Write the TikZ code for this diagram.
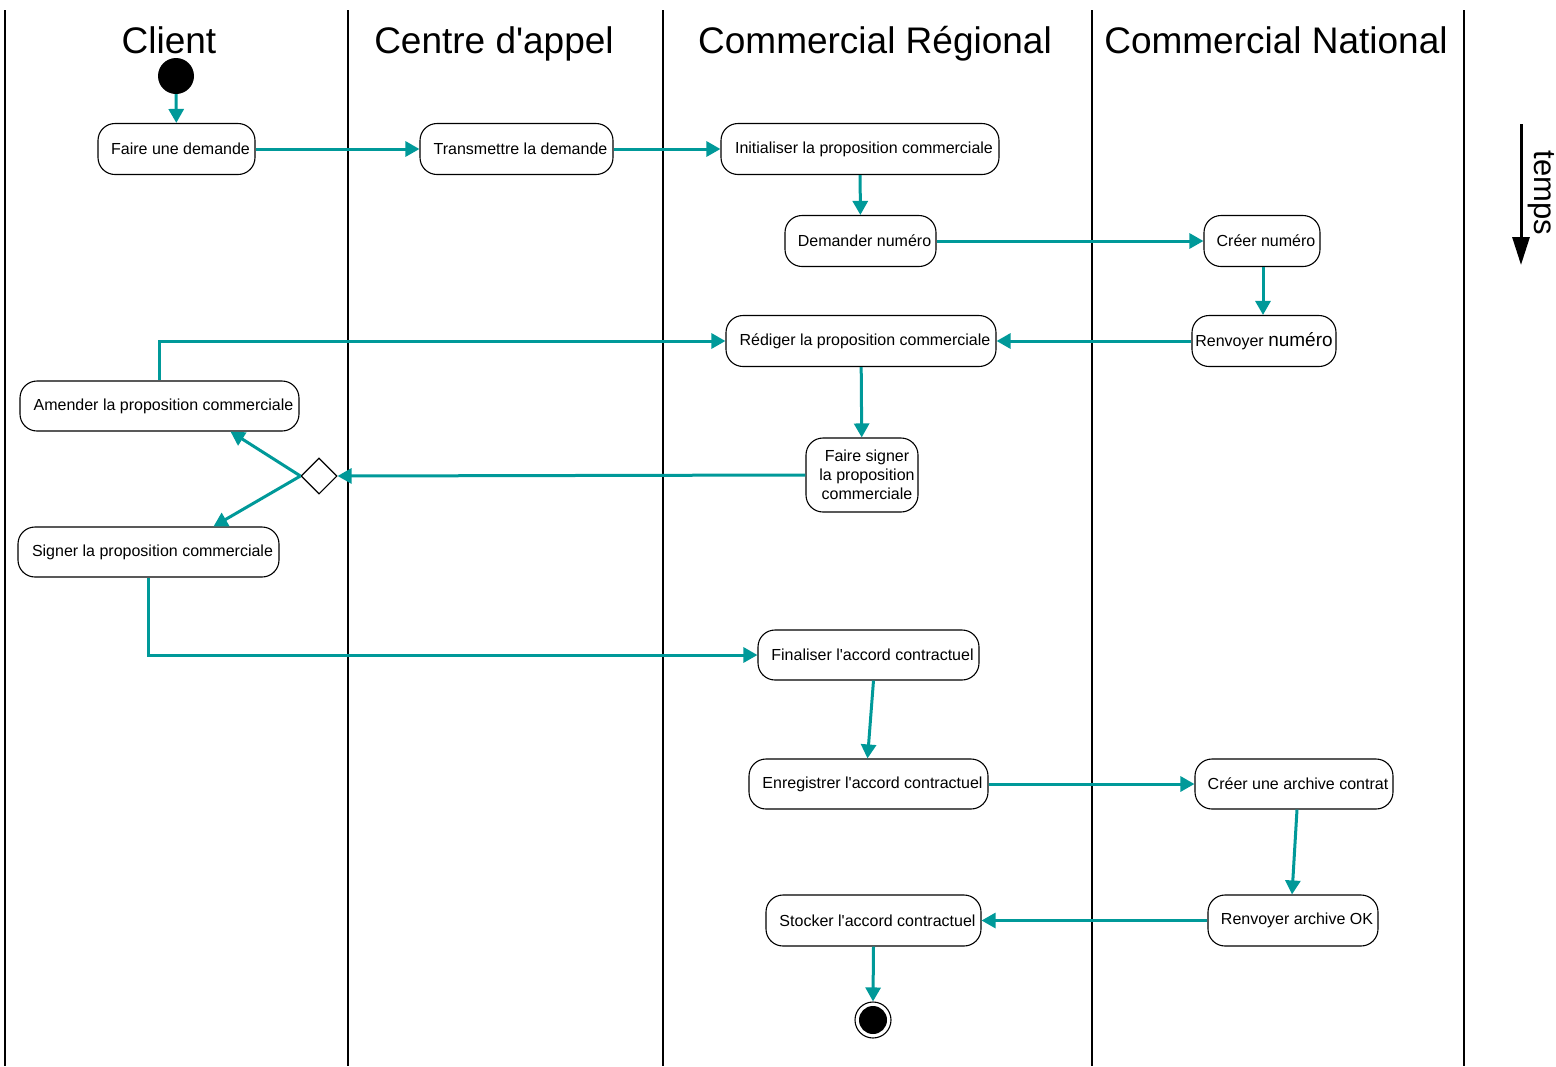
\documentclass[tikz,border=0pt]{standalone}
\usepackage{fontspec}
\setmainfont{Liberation Sans}[Ligatures=TeXOff]
\usetikzlibrary{arrows.meta,shapes.geometric}
\definecolor{flow}{HTML}{009999}

\begin{document}
\begin{tikzpicture}[x=1pt,y=-1pt,
  actbase/.style={draw=black, line width=1.1pt, rounded corners=17pt, inner sep=0pt,
              font=\fontsize{16}{19}\selectfont, align=center},
  act/.style={actbase, execute at begin node={\hspace*{8pt}}},
  flowarrow/.style={draw=flow, line width=3pt, -{Triangle[length=14pt,width=15pt]}},
  lane/.style={line width=1.2pt},
  title/.style={font=\fontsize{37}{40}\selectfont, anchor=base}]

\useasboundingbox (0,0) rectangle (1556,1066);

% swimlane separators
\foreach \x/\nm in {5/l0,348/l1,663/l2,1092/l3,1464/l4}
  \draw[lane] (\x,10) coordinate (\nm top) -- (\x,1066) coordinate (\nm bot);

% lane titles
\node[title] (tclient) at (169,53) {Client};
\node[title] (tcentre) at (494,53) {Centre d'appel};
\node[title] (tregional) at (875,53) {Commercial Régional};
\node[title] (tnational) at (1276,53) {Commercial National};

% time axis
\coordinate (tstart) at (1521,124);
\coordinate (tend) at (1521,265);
\draw[line width=3pt, -{Triangle[length=28pt,width=17pt]}] (tstart) -- (tend);
\node[rotate=-90, font=\fontsize{31}{34}\selectfont] (temps) at (1541,193) {temps};

% start and end
\node[circle, fill=black, minimum size=36pt, inner sep=0pt] (start) at (176,76) {};
\node[circle, draw=black, line width=1.1pt, minimum size=36pt, inner sep=0pt] (end) at (873,1020) {};
\node[circle, fill=black, minimum size=28pt, inner sep=0pt] (endcore) at (873,1020) {};

% activities
\node[act, minimum width=157pt, minimum height=51pt] (faire) at (176.5,149) {Faire une demande};
\node[act, minimum width=193pt, minimum height=51pt] (transmettre) at (516.5,149) {Transmettre la demande};
\node[act, minimum width=278pt, minimum height=51pt] (initialiser) at (860,149) {Initialiser la proposition commerciale};
\node[act, minimum width=151pt, minimum height=51pt] (demander) at (860.5,241) {Demander numéro};
\node[act, minimum width=116pt, minimum height=51pt] (creernum) at (1262,241) {Créer numéro};
\node[actbase, minimum width=144pt, minimum height=51pt] (renvoyernum) at (1264,341)
  {\raisebox{-1.5pt}{Renvoyer {\fontsize{19}{19}\selectfont numéro}}};
\node[act, minimum width=270pt, minimum height=51pt] (rediger) at (861,341) {Rédiger la proposition commerciale};
\node[act, minimum width=279pt, minimum height=50pt] (amender) at (159.5,406) {Amender la proposition commerciale};
\node[actbase, minimum width=112pt, minimum height=74pt] (fairesigner) at (862,475)
  {\hspace*{10pt}Faire signer\\\hspace*{10pt}la proposition\\\hspace*{10pt}commerciale};
\node[diamond, draw=black, line width=1.1pt, minimum width=36pt, minimum height=36pt, inner sep=0pt] (choix) at (319,476) {};
\node[act, minimum width=261pt, minimum height=50pt] (signer) at (148.5,552) {Signer la proposition commerciale};
\node[act, minimum width=221pt, minimum height=50pt] (finaliser) at (868.5,655) {Finaliser l'accord contractuel};
\node[act, minimum width=239pt, minimum height=50pt] (enregistrer) at (868.5,784) {Enregistrer l'accord contractuel};
\node[act, minimum width=198pt, minimum height=50pt] (archive) at (1294,784) {Créer une archive contrat};
\node[act, minimum width=170pt, minimum height=51pt] (renvoyerarch) at (1293,920.5) {Renvoyer archive OK};
\node[act, minimum width=215pt, minimum height=51pt] (stocker) at (873.5,920.5) {Stocker l'accord contractuel};

% control flow
\draw[flowarrow] (start) -- (faire);
\draw[flowarrow] (faire) -- (transmettre);
\draw[flowarrow] (transmettre) -- (initialiser);
\draw[flowarrow] (initialiser) -- (demander);
\draw[flowarrow] (demander) -- (creernum);
\draw[flowarrow] ([xshift=1pt]creernum.south) -- ([xshift=-1pt]renvoyernum.north);
\draw[flowarrow] (renvoyernum.west) -- (rediger.east);
\draw[flowarrow] (rediger) -- (fairesigner);
\draw[flowarrow] (fairesigner.west) -- (choix.east);
\draw[flowarrow] (choix.west) -- ([xshift=71pt]amender.south);
\draw[flowarrow] (choix.west) -- ([xshift=65pt]signer.north);
\draw[flowarrow] (amender.north) |- (rediger.west);
\draw[flowarrow] (signer.south) |- (finaliser.west);
\draw[flowarrow] ([xshift=5pt]finaliser.south) -- ([xshift=-1pt]enregistrer.north);
\draw[flowarrow] (enregistrer) -- (archive);
\draw[flowarrow] ([xshift=3pt]archive.south) -- ([xshift=-1pt]renvoyerarch.north);
\draw[flowarrow] (renvoyerarch) -- (stocker);
\draw[flowarrow] (stocker.south) -- (end.north);

\end{tikzpicture}
\end{document}
